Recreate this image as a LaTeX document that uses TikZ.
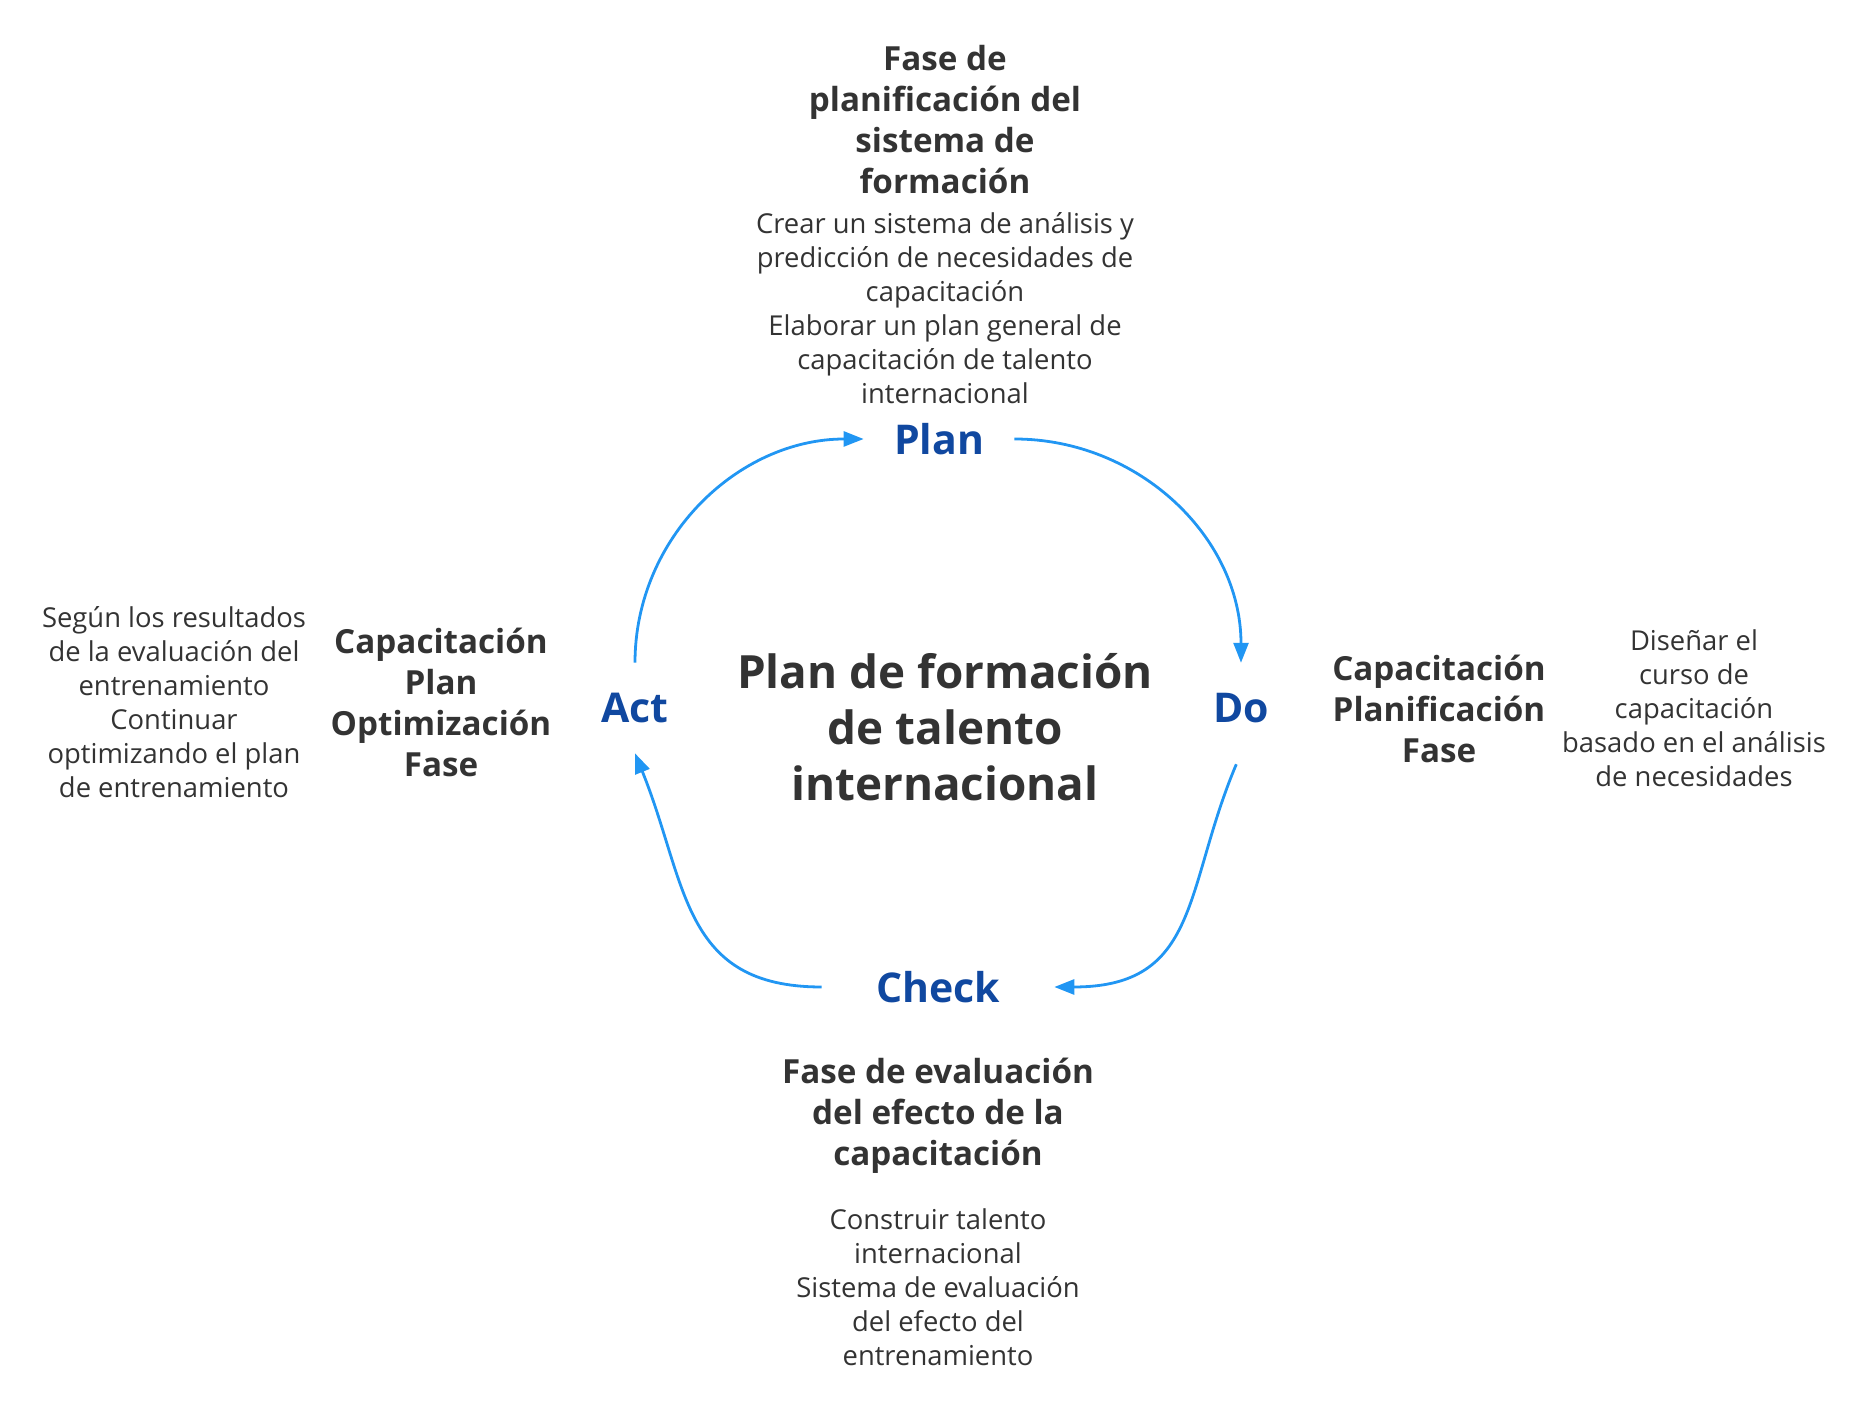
\documentclass[tikz,border=0pt]{standalone}
\usepackage{fontspec}
\setmainfont{Open Sans}
\usepackage{xcolor}
\definecolor{ink}{RGB}{51, 51, 51}
\definecolor{pdcablue}{RGB}{16, 72, 160}
\definecolor{arrowblue}{RGB}{33, 150, 243}
\usetikzlibrary{arrows.meta, positioning}
\tikzset{
  titlebox/.style={inner sep=0pt, align=center, text=ink,
    font=\fontsize{22.9}{28}\selectfont\bfseries},
  phasebox/.style={inner sep=0pt, align=center, text=ink,
    font=\fontsize{16.6}{20.5}\selectfont\bfseries},
  notebox/.style={inner sep=0pt, align=center, text=ink,
    font=\fontsize{13.7}{17}\selectfont},
  pdcalabel/.style={inner sep=15pt, text=pdcablue,
    font=\fontsize{20.5}{24}\selectfont\bfseries},
  cyclearrow/.style={-{Triangle[length=10pt, width=7.5pt]},
    line width=1.4pt, color=arrowblue}
}

\begin{document}
\begin{tikzpicture}[x=0.5pt, y=0.5pt]
  \useasboundingbox (0,0) rectangle (1869,1419);

  %% Centre title
  \node[titlebox] (title) at (945,692)
    {Plan de formación\\de talento\\internacional};

  %% PDCA labels
  \node[pdcalabel] (plan) at (939,980) {Plan};
  \node[pdcalabel] (do) at (1241,711) {Do};
  \node[pdcalabel, inner xsep=27pt] (check) at (938,432) {Check};
  \node[pdcalabel] (act) at (635,711) {Act};

  %% Plan phase (top)
  \node[phasebox] (planphase) at (945,1299)
    {Fase de\\planificación del\\sistema de\\formación};
  \node[notebox] (plannote) at (945,1111)
    {Crear un sistema de análisis y\\predicción de necesidades de\\capacitación\\
     Elaborar un plan general de\\capacitación de talento\\internacional};

  %% Do phase (right)
  \node[phasebox] (dophase) at (1439,710)
    {Capacitación\\Planificación\\Fase};
  \node[notebox] (donote) at (1694,711)
    {Diseñar el\\curso de\\capacitación\\basado en el análisis\\de necesidades};

  %% Check phase (bottom)
  \node[phasebox] (checkphase) at (938,303)
    {Fase de evaluación\\del efecto de la\\capacitación};
  \node[notebox] (checknote) at (938,132)
    {Construir talento\\internacional\\Sistema de evaluación\\del efecto del\\entrenamiento};

  %% Act phase (left)
  \node[phasebox] (actphase) at (441,717)
    {Capacitación\\Plan\\Optimización\\Fase};
  \node[notebox] (actnote) at (174,717)
    {Según los resultados\\de la evaluación del\\entrenamiento\\Continuar\\optimizando el plan\\de entrenamiento};

  %% Cycle arrows
  \draw[cyclearrow] (act.north) to[out=90, in=180] (plan.west);
  \draw[cyclearrow] (plan.east) to[out=0, in=90] (do.north);
  \draw[cyclearrow, shorten <=6pt] (do.south) to[out=-113, in=0, looseness=1.25] (check.east);
  \draw[cyclearrow] (check.west) to[out=180, in=-68, looseness=1.2] (act.south);

\end{tikzpicture}
\end{document}
